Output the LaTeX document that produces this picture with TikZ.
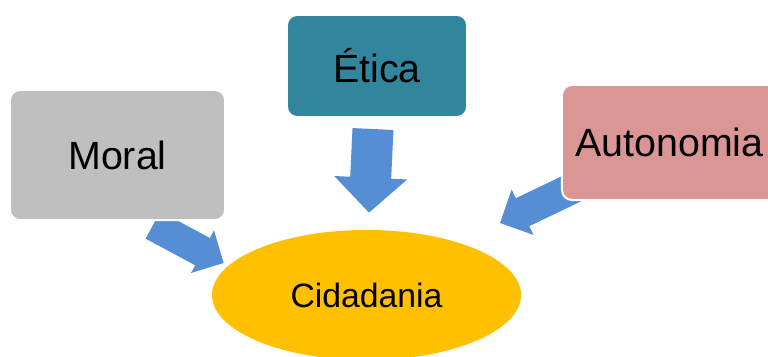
\documentclass[tikz,border=0pt]{standalone}
\usepackage{fontspec}
\setmainfont{Liberation Sans}
\usepackage{tikz}
\usetikzlibrary{arrows.meta,positioning,calc,shapes.geometric,backgrounds}

\definecolor{moralgray}{HTML}{BFBFBF}
\definecolor{eticateal}{HTML}{31859C}
\definecolor{autopink}{HTML}{D99694}
\definecolor{cidgold}{HTML}{FFC000}
\definecolor{arrblue}{HTML}{558ED5}

\begin{document}
\begin{tikzpicture}[x=0.025cm, y=-0.025cm,
	box/.style={draw=white, line width=0.05cm, rounded corners=0.25cm, inner sep=0pt, font=\fontsize{28}{34}\selectfont},
	blk/.style={arrblue, line width=#1},
	]
	\useasboundingbox (0,0) rectangle (768,356);
	\node[box, fill=moralgray, minimum width=5.375cm, minimum height=3.25cm] (moral) at (117.5,155) {Moral};
	\node[box, fill=eticateal, minimum width=4.5cm, minimum height=2.55cm] (etica) at (377,66) {Ética};
	\node[box, fill=autopink, minimum width=5.375cm, minimum height=2.875cm] (auto) at (669.5,142.5) {Autonomia};
	\node[ellipse, fill=cidgold, inner sep=0pt, minimum width=7.725cm, minimum height=3.25cm, font=\fontsize{24}{29}\selectfont] (cid) at (366.5,295) {Cidadania};
	\coordinate (moralA) at ($(moral.south)+(35.5,4)$);
	\coordinate (moralB) at ($(cid.west)+(12,-32)$);
	\coordinate (eticaA) at ($(etica.south)+(-4,11)$);
	\coordinate (eticaB) at ($(cid.north)+(2.5,-17)$);
	\coordinate (autoA) at ($(auto.west)+(35,34.5)$);
	\coordinate (autoB) at ($(cid.center)+(133.5,-72)$);
	\begin{scope}[on background layer]
		\draw[blk=0.775cm, -{Triangle[length=0.6cm, width=1.175cm]}] (moralA) -- (moralB);
		\draw[blk=1.025cm, -{Triangle[length=0.875cm, width=1.775cm]}] (eticaA) -- (eticaB);
		\draw[blk=0.775cm, -{Triangle[length=0.625cm, width=1.225cm]}] (autoA) -- (autoB);
	\end{scope}
\end{tikzpicture}
\end{document}
